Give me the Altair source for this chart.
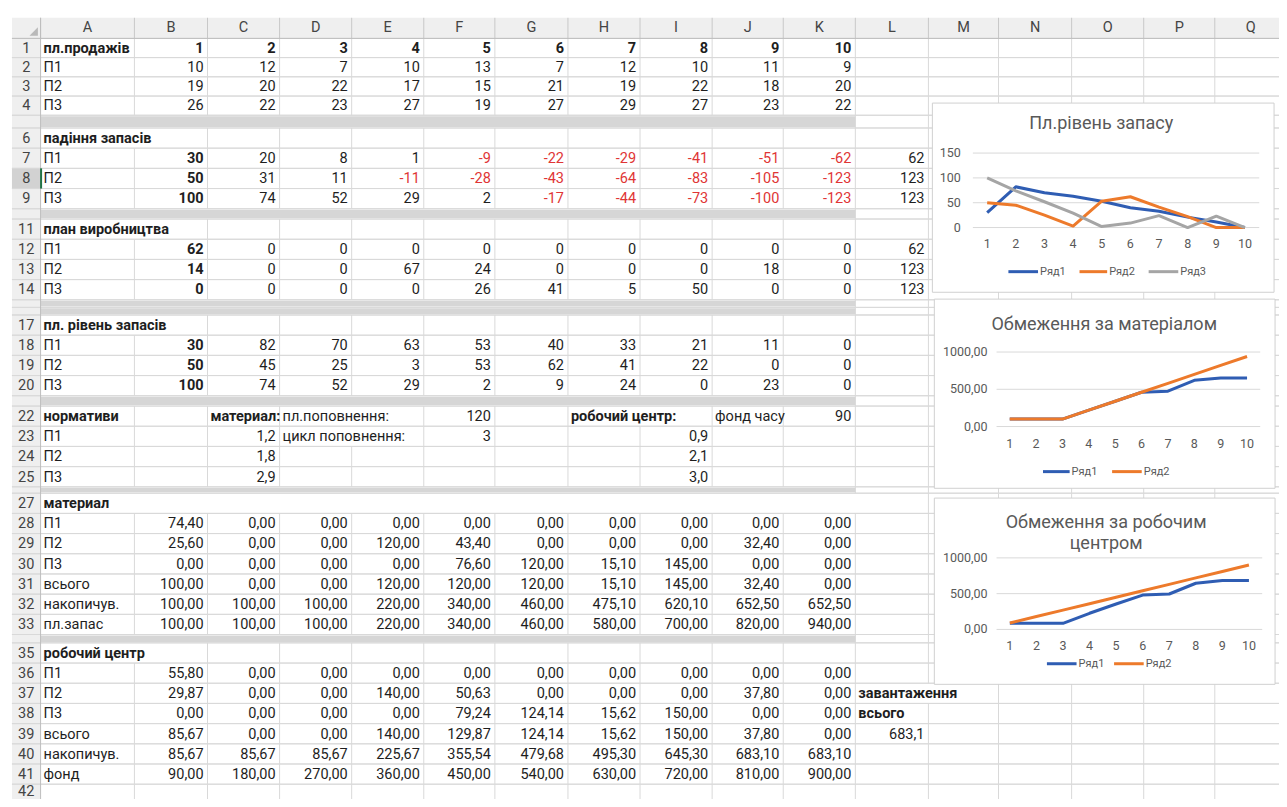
import altair as alt
import pandas as pd

# ---------------- data (read from the spreadsheet) ----------------
PERIODS = [1, 2, 3, 4, 5, 6, 7, 8, 9, 10]
PRODUCTS = ["П1", "П2", "П3"]

SALES_P1 = [10, 12, 7, 10, 13, 7, 12, 10, 11, 9]
SALES_P2 = [19, 20, 22, 17, 15, 21, 19, 22, 18, 20]
SALES_P3 = [26, 22, 23, 27, 19, 27, 29, 27, 23, 22]

DROP_P1 = [30, 20, 8, 1, -9, -22, -29, -41, -51, -62]
DROP_P2 = [50, 31, 11, -11, -28, -43, -64, -83, -105, -123]
DROP_P3 = [100, 74, 52, 29, 2, -17, -44, -73, -100, -123]
DROP_TOTAL = [62, 123, 123]

PLAN_P1 = [62, 0, 0, 0, 0, 0, 0, 0, 0, 0]
PLAN_P2 = [14, 0, 0, 67, 24, 0, 0, 0, 18, 0]
PLAN_P3 = [0, 0, 0, 0, 26, 41, 5, 50, 0, 0]
PLAN_TOTAL = [62, 123, 123]

STOCK_P1 = [30, 82, 70, 63, 53, 40, 33, 21, 11, 0]
STOCK_P2 = [50, 45, 25, 3, 53, 62, 41, 22, 0, 0]
STOCK_P3 = [100, 74, 52, 29, 2, 9, 24, 0, 23, 0]

NORM_MATERIAL = [1.2, 1.8, 2.9]
NORM_WORKCENTER = [0.9, 2.1, 3.0]
REPLENISH_QTY = 120
REPLENISH_CYCLE = 3
TIME_FUND = 90

MAT_LABELS = ["П1", "П2", "П3", "всього", "накопичув.", "пл.запас"]
MAT_P1 = [74.40, 0, 0, 0, 0, 0, 0, 0, 0, 0]
MAT_P2 = [25.60, 0, 0, 120, 43.40, 0, 0, 0, 32.40, 0]
MAT_P3 = [0, 0, 0, 0, 76.60, 120, 15.10, 145, 0, 0]
MAT_TOTAL = [100, 0, 0, 120, 120, 120, 15.10, 145, 32.40, 0]
MAT_CUM = [100, 100, 100, 220, 340, 460, 475.10, 620.10, 652.50, 652.50]
MAT_PLAN = [100, 100, 100, 220, 340, 460, 580, 700, 820, 940]

WC_LABELS = ["П1", "П2", "П3", "всього", "накопичув.", "фонд"]
WC_P1 = [55.80, 0, 0, 0, 0, 0, 0, 0, 0, 0]
WC_P2 = [29.87, 0, 0, 140, 50.63, 0, 0, 0, 37.80, 0]
WC_P3 = [0, 0, 0, 0, 79.24, 124.14, 15.62, 150, 0, 0]
WC_TOTAL = [85.67, 0, 0, 140, 129.87, 124.14, 15.62, 150, 37.80, 0]
WC_CUM = [85.67, 85.67, 85.67, 225.67, 355.54, 479.68, 495.30, 645.30, 683.10, 683.10]
WC_FUND = [90, 180, 270, 360, 450, 540, 630, 720, 810, 900]
WC_LOAD_TOTAL = 683.1

SERIES_NAMES = ["Ряд1", "Ряд2", "Ряд3"]
CHART_TITLES = [["Пл.рівень запасу"], ["Обмеження за матеріалом"], ["Обмеження за робочим", "центром"]]
Y_TICKS_1 = [0, 50, 100, 150]
Y_TICKS_2 = [0, 500, 1000]
Y_TICKS_3 = [0, 500, 1000]

# ---------------- layout / style ----------------
FONT = "Roboto"
CELL_SIZE = 14.5
TXT = "#1e1e1e"
RED = "#e03535"
GRID = "#d9d9d9"
HEAD_BG = "#efefef"
HEAD_TXT = "#444444"
CHART_TXT = "#595959"
SERIES_COLORS = ["#2f5db3", "#ed7a2b", "#a5a5a5"]

REF_W, REF_H = 1287, 807
W, H = 1271, 791
SX, SY = W / REF_W, H / REF_H

ALL_COLS = list("ABCDEFGHIJKLMNOPQ")
DATA_COLS = list("BCDEFGHIJK")
COL_EDGES = [4, 33, 128, 202, 275, 348, 421, 493, 567, 640, 713, 785, 858, 932,
             1003, 1077, 1150, 1222, 1295]


def col_bounds(c):
    i = ALL_COLS.index(c)
    return COL_EDGES[i + 1], COL_EDGES[i + 2]


HEADER_TOP, HEADER_BOT = 10, 31
HIDDEN_H = {5: 13, 10: 10.5, 15: 7.75, 16: 7.75, 21: 10.5, 26: 6.5, 34: 8.5}
ROW_TOP, ROW_BOT = {}, {}
_y = HEADER_BOT
for r in range(1, 43):
    h = HIDDEN_H.get(r, 19.6 if r <= 4 else 20.6)
    ROW_TOP[r] = _y
    _y += h
    ROW_BOT[r] = min(_y, REF_H)

PX = alt.Scale(domain=[0, REF_W], range=[0, W], nice=False, zero=False)
PY = alt.Scale(domain=[0, REF_H], range=[0, H], nice=False, zero=False)

# ---------------- cells ----------------
cells = []


def put(row, col, text, bold=False, align="right", color=TXT):
    cells.append(dict(row=row, col=col, text=text, bold=bold, align=align, color=color))


def f0(v):
    return str(v)


def f1(v):
    return f"{v:.1f}".replace(".", ",")


def f2(v):
    return f"{v:.2f}".replace(".", ",")


def block(row0, labels, series, fmt, bold_first=False, red_neg=False, totals=None):
    for k, (lab, vals) in enumerate(zip(labels, series)):
        r = row0 + k
        put(r, "A", lab, align="left")
        for i, v in enumerate(vals):
            put(r, DATA_COLS[i], fmt(v), bold=(bold_first and i == 0),
                color=(RED if (red_neg and v < 0) else TXT))
        if totals is not None:
            put(r, "L", fmt(totals[k]))


put(1, "A", "пл.продажів", bold=True, align="left")
for i, p in enumerate(PERIODS):
    put(1, DATA_COLS[i], str(p), bold=True)
block(2, PRODUCTS, [SALES_P1, SALES_P2, SALES_P3], f0)

put(6, "A", "падіння запасів", bold=True, align="left")
block(7, PRODUCTS, [DROP_P1, DROP_P2, DROP_P3], f0, bold_first=True, red_neg=True, totals=DROP_TOTAL)

put(11, "A", "план виробництва", bold=True, align="left")
block(12, PRODUCTS, [PLAN_P1, PLAN_P2, PLAN_P3], f0, bold_first=True, totals=PLAN_TOTAL)

put(17, "A", "пл. рівень запасів", bold=True, align="left")
block(18, PRODUCTS, [STOCK_P1, STOCK_P2, STOCK_P3], f0, bold_first=True)

put(22, "A", "нормативи", bold=True, align="left")
put(22, "C", "материал:", bold=True, align="left")
put(22, "D", "пл.поповнення:", align="left")
put(22, "F", str(REPLENISH_QTY))
put(22, "H", "робочий центр:", bold=True, align="left")
put(22, "J", "фонд часу", align="left")
put(22, "K", str(TIME_FUND))
put(23, "D", "цикл поповнення:", align="left")
put(23, "F", str(REPLENISH_CYCLE))
for k in range(3):
    put(23 + k, "A", PRODUCTS[k], align="left")
    put(23 + k, "C", f1(NORM_MATERIAL[k]))
    put(23 + k, "I", f1(NORM_WORKCENTER[k]))

put(27, "A", "материал", bold=True, align="left")
block(28, MAT_LABELS, [MAT_P1, MAT_P2, MAT_P3, MAT_TOTAL, MAT_CUM, MAT_PLAN], f2)

put(35, "A", "робочий центр", bold=True, align="left")
block(36, WC_LABELS, [WC_P1, WC_P2, WC_P3, WC_TOTAL, WC_CUM, WC_FUND], f2)
put(37, "L", "завантаження", bold=True, align="left")
put(38, "L", "всього", bold=True, align="left")
put(39, "L", f1(WC_LOAD_TOTAL))

cdf = pd.DataFrame(cells)
cdf["x"] = [col_bounds(c)[0] + 3 if a == "left" else col_bounds(c)[1] - 4
            for c, a in zip(cdf["col"], cdf["align"])]
cdf["y"] = [(ROW_TOP[r] + ROW_BOT[r]) / 2 + 0.8 for r in cdf["row"]]

# ---------------- helpers ----------------


def rect_layer(df, **mark):
    return alt.Chart(df).mark_rect(**mark).encode(
        x=alt.X("x:Q", scale=PX, axis=None), x2="x2:Q",
        y=alt.Y("y:Q", scale=PY, axis=None), y2="y2:Q",
        fill=alt.Fill("fill:N", scale=None))


def rule_layer(df, color, width=1.0):
    return alt.Chart(df).mark_rule(color=color, strokeWidth=width).encode(
        x=alt.X("x:Q", scale=PX, axis=None), x2="x2:Q",
        y=alt.Y("y:Q", scale=PY, axis=None), y2="y2:Q")


def text_layer(df, align="left", weight="normal", size=CELL_SIZE, color=None):
    enc = dict(x=alt.X("x:Q", scale=PX, axis=None),
               y=alt.Y("y:Q", scale=PY, axis=None),
               text="text:N")
    mk = dict(align=align, baseline="middle", font=FONT, fontSize=size, fontWeight=weight)
    if color is None:
        enc["color"] = alt.Color("color:N", scale=None)
    else:
        mk["color"] = color
    return alt.Chart(df).mark_text(**mk).encode(**enc)


# ---------------- sheet backgrounds ----------------
bg = pd.DataFrame([
    dict(x=COL_EDGES[0], x2=COL_EDGES[-1], y=HEADER_TOP, y2=HEADER_BOT, fill=HEAD_BG),
    dict(x=COL_EDGES[0], x2=COL_EDGES[1], y=HEADER_BOT, y2=REF_H, fill=HEAD_BG),
    dict(x=COL_EDGES[0], x2=COL_EDGES[1], y=ROW_TOP[8], y2=ROW_BOT[8], fill="#d2d2d2"),
])
hidden_bands = pd.DataFrame([
    dict(x=COL_EDGES[1], x2=COL_EDGES[12], y=ROW_TOP[r] + 1, y2=ROW_BOT[r] - 1, fill="#d6d6d6")
    for r in HIDDEN_H
])

# horizontal grid
hlines = [dict(x=COL_EDGES[0], x2=COL_EDGES[-1], y=ROW_TOP[r], y2=ROW_TOP[r]) for r in range(1, 43)]
hlines += [dict(x=COL_EDGES[0], x2=COL_EDGES[-1], y=ROW_BOT[r], y2=ROW_BOT[r]) for r in range(1, 42)]
hdf = pd.DataFrame(hlines)

# vertical grid, skipping where text overflows into the next cell
SKIP = {(6, 128), (11, 128), (17, 128), (35, 128), (22, 348), (22, 640), (23, 348), (37, 932)}
SKIP |= {(27, x) for x in COL_EDGES[2:13]}
vlines = []
for r in range(1, 43):
    xs = COL_EDGES[12:] if r in HIDDEN_H else COL_EDGES[2:]
    for x in xs:
        if (r, x) in SKIP:
            continue
        vlines.append(dict(x=x, x2=x, y=ROW_TOP[r], y2=ROW_BOT[r]))
vdf = pd.DataFrame(vlines)

head_v = pd.DataFrame([dict(x=x, x2=x, y=HEADER_TOP, y2=HEADER_BOT) for x in COL_EDGES[1:]])
head_border = pd.DataFrame([
    dict(x=COL_EDGES[0], x2=COL_EDGES[-1], y=HEADER_BOT, y2=HEADER_BOT),
    dict(x=COL_EDGES[1], x2=COL_EDGES[1], y=HEADER_TOP, y2=REF_H),
])
active = pd.DataFrame([dict(x=COL_EDGES[1] + 0.5, x2=COL_EDGES[1] + 0.5, y=ROW_TOP[8], y2=ROW_BOT[8])])

head_txt = pd.DataFrame([dict(text=c, x=(col_bounds(c)[0] + col_bounds(c)[1]) / 2,
                              y=(HEADER_TOP + HEADER_BOT) / 2) for c in ALL_COLS])
rownum_txt = pd.DataFrame([dict(text=str(r), x=(COL_EDGES[0] + COL_EDGES[1]) / 2,
                                y=(ROW_TOP[r] + ROW_BOT[r]) / 2 + 0.8)
                           for r in range(1, 43) if r not in HIDDEN_H])

corner = alt.Chart(pd.DataFrame([dict(x=26, y=24)])).mark_point(
    shape="M 1 1 L 1 -1 L -1 1 Z", filled=True, color="#b9b9b9", size=70, opacity=1
).encode(x=alt.X("x:Q", scale=PX, axis=None), y=alt.Y("y:Q", scale=PY, axis=None))

sheet_layers = [
    rect_layer(bg),
    rule_layer(hdf, GRID),
    rule_layer(vdf, GRID),
    rect_layer(hidden_bands),
    rule_layer(head_v, "#c8c8c8"),
    rule_layer(head_border, "#bdbdbd"),
    rule_layer(active, "#217346", 2),
    corner,
    text_layer(head_txt, align="center", color=HEAD_TXT),
    text_layer(rownum_txt, align="center", color=HEAD_TXT),
]
for a in ["left", "right"]:
    for b in [False, True]:
        sub = cdf[(cdf["align"] == a) & (cdf["bold"] == b)]
        if len(sub):
            sheet_layers.append(text_layer(sub, align=a, weight=("bold" if b else "normal")))

# ---------------- embedded charts: frames, titles, legends ----------------
CHART_BOXES = [(936, 97, 1282, 290), (938, 297, 1283, 490), (938, 500, 1283, 690)]
TITLE_POS = [(1107, 118), (1110, 323), (1112, 525)]
LEGEND_Y = [269, 473, 669]
LEGEND_ITEMS = [[(1013, 1043), (1085, 1113), (1155, 1185)],
                [(1048, 1075), (1118, 1148)],
                [(1052, 1082), (1120, 1150)]]

boxes = pd.DataFrame([dict(x=b[0], x2=b[2], y=b[1], y2=b[3], fill="white") for b in CHART_BOXES])
sheet_layers.append(rect_layer(boxes, stroke="#d0d0d0", strokeWidth=1))

titles = []
for (tx, ty), lines in zip(TITLE_POS, CHART_TITLES):
    for k, line in enumerate(lines):
        titles.append(dict(text=line, x=tx, y=ty + 22 * k))
sheet_layers.append(text_layer(pd.DataFrame(titles), align="center", size=18, color=CHART_TXT))

leg_lines, leg_txt = [], []
for ly, items in zip(LEGEND_Y, LEGEND_ITEMS):
    for k, (a, b) in enumerate(items):
        leg_lines.append(dict(x=a, x2=b, y=ly, y2=ly, color=SERIES_COLORS[k]))
        leg_txt.append(dict(text=SERIES_NAMES[k], x=b + 2, y=ly))
sheet_layers.append(
    alt.Chart(pd.DataFrame(leg_lines)).mark_rule(strokeWidth=3).encode(
        x=alt.X("x:Q", scale=PX, axis=None), x2="x2:Q",
        y=alt.Y("y:Q", scale=PY, axis=None), y2="y2:Q",
        color=alt.Color("color:N", scale=None)))
sheet_layers.append(text_layer(pd.DataFrame(leg_txt), align="left", size=11, color=CHART_TXT))

sheet = alt.layer(*sheet_layers)


# ---------------- embedded charts: data through their own scales ----------------
def line_chart(series_list, yticks, ylabels, ydom, xr, yr, dx, dy):
    xs = alt.Scale(domain=[0.5, 10.5], range=[xr[0] * SX, xr[1] * SX], nice=False, zero=False)
    ys = alt.Scale(domain=list(ydom), range=[yr[0] * SY, yr[1] * SY], nice=False, zero=False)
    gdf = pd.DataFrame({"tick": yticks, "label": ylabels, "x0": 0.5, "x1": 10.5})
    grid = alt.Chart(gdf).mark_rule(color=GRID, strokeWidth=1).encode(
        x=alt.X("x0:Q", scale=xs, axis=None), x2="x1:Q",
        y=alt.Y("tick:Q", scale=ys, axis=None))
    ylab = alt.Chart(gdf).mark_text(align="right", baseline="middle", dx=dx, font=FONT,
                                    fontSize=12.5, color=CHART_TXT).encode(
        x=alt.X("x0:Q", scale=xs, axis=None), y=alt.Y("tick:Q", scale=ys, axis=None),
        text="label:N")
    xdf = pd.DataFrame({"period": PERIODS, "label": [str(p) for p in PERIODS], "zero": 0})
    xlab = alt.Chart(xdf).mark_text(align="center", baseline="middle", dy=dy, font=FONT,
                                    fontSize=12.5, color=CHART_TXT).encode(
        x=alt.X("period:Q", scale=xs, axis=None), y=alt.Y("zero:Q", scale=ys, axis=None),
        text="label:N")
    rows = []
    for k, vals in enumerate(series_list):
        for p, v in zip(PERIODS, vals):
            rows.append(dict(period=p, value=v, series=SERIES_NAMES[k]))
    names = SERIES_NAMES[:len(series_list)]
    lines = alt.Chart(pd.DataFrame(rows)).mark_line(strokeWidth=3, strokeJoin="round").encode(
        x=alt.X("period:Q", scale=xs, axis=None),
        y=alt.Y("value:Q", scale=ys, axis=None),
        color=alt.Color("series:N", scale=alt.Scale(domain=names, range=SERIES_COLORS[:len(names)]),
                        legend=None),
        order=alt.Order("period:Q"))
    return alt.layer(grid, ylab, xlab, lines)


c1 = line_chart([STOCK_P1, STOCK_P2, STOCK_P3], Y_TICKS_1, [str(t) for t in Y_TICKS_1],
                (0, 150), (977, 1267), (224, 148), -12, 16)
c2 = line_chart([MAT_CUM, MAT_PLAN], Y_TICKS_2, [f2(t) for t in Y_TICKS_2],
                (0, 1000), (1001, 1268), (427, 351), -9, 17)
c3 = line_chart([WC_CUM, WC_FUND], Y_TICKS_3, [f2(t) for t in Y_TICKS_3],
                (0, 1000), (1001, 1270), (634, 561), -9, 17)

chart = alt.layer(sheet, c1, c2, c3).resolve_scale(
    x="independent", y="independent", color="independent"
).properties(
    width=W, height=H, padding=0, autosize=alt.AutoSizeParams(type="none"),
    background="white"
).configure_view(strokeWidth=0)

chart.save("out.html", embed_options={"renderer": "svg", "actions": False})
